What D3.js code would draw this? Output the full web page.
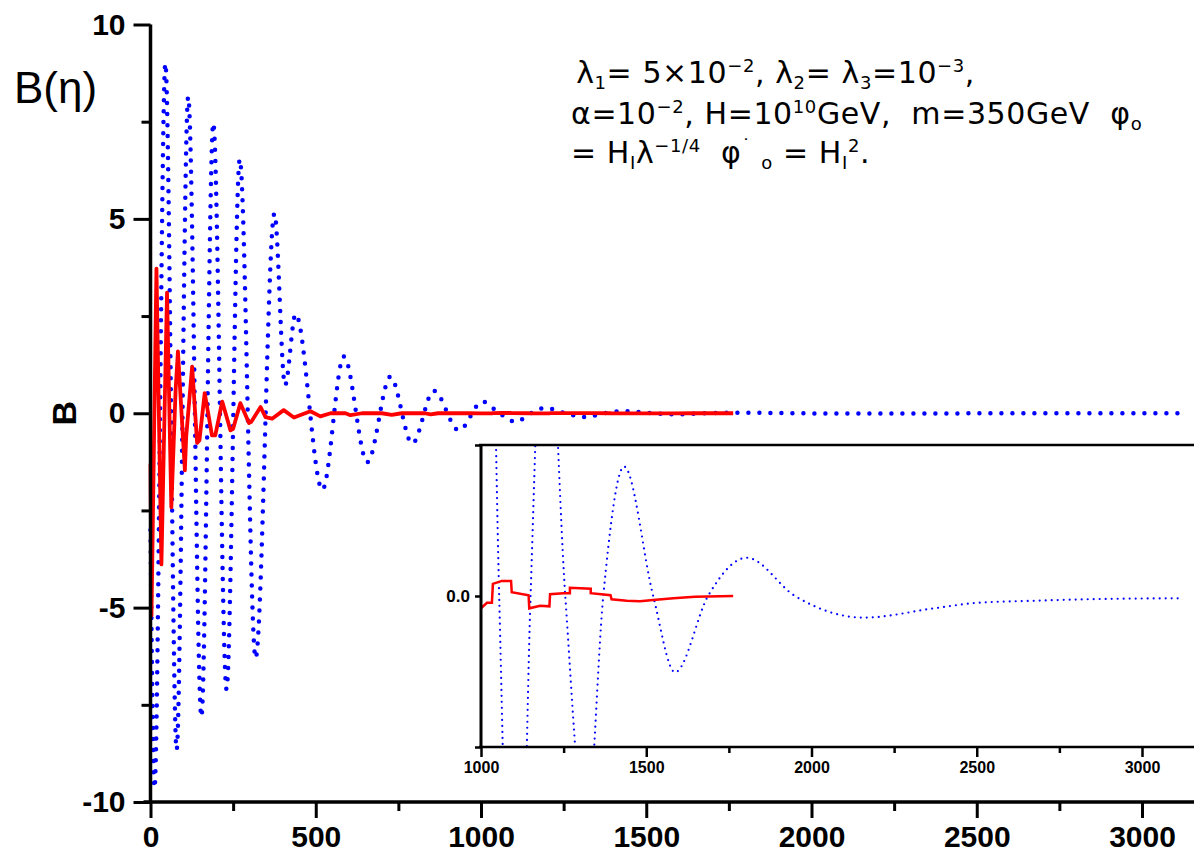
<!DOCTYPE html>
<html><head><meta charset="utf-8">
<script src="https://cdn.jsdelivr.net/npm/d3@7"></script>
<style>
body{margin:0;background:#fff}
svg{display:block}
text{white-space:pre}
</style>
</head><body>
<svg id="chart" width="1194" height="859"></svg>
<script>
// ---------- data ----------
// blue (dotted) series: eta and B
const blueEta = [0, 12, 45, 79, 114, 154, 190, 230, 270, 318, 375, 407, 439, 520, 585, 656, 726, 792, 857, 933,
  1004, 1055, 1105, 1150, 1195, 1255, 1318, 1370, 1433, 1521, 1587, 1687, 1804, 1950, 2158, 2371, 2502, 2672, 2872, 3123];
const blueB = [-3.0, -9.64, 9.0, -8.66, 8.14, -7.81, 7.46, -7.1, 6.53, -6.3, 5.14, 0.72, 2.55, -1.97, 1.46, -1.26, 0.94, -0.78, 0.58, -0.44,
  0.30, 0.0, -0.22, 0.0, 0.14, 0.0, -0.095, 0.0, 0.0514, 0.0, -0.0303, 0.0, 0.0152, 0.0, -0.0086, -0.0049, -0.0027, -0.0019, -0.0012, -0.0009];

// red (solid) series: eta and B
const redEta = [0, 3, 18, 33, 50, 63, 76, 83, 104, 108, 126, 141, 148, 164, 186, 196, 217, 242, 250, 272, 298, 305, 333, 348, 368, 403, 434, 484, 514, 545,
  590, 605, 640, 700, 730, 760, 830, 848, 870, 960,
  1000, 1018, 1033, 1036, 1063, 1091, 1093, 1144, 1146, 1179, 1207, 1209, 1249, 1269, 1269, 1332, 1332, 1392, 1395, 1441, 1481, 1521, 1582, 1647, 1763];
const redB = [-1.3, -5.2, 3.72, -3.89, 3.1, -2.42, 0.6, 1.59, -1.47, -0.6, 1.2, -0.76, -0.7, 0.52, -0.57, -0.57, 0.3, -0.44, -0.4, 0.26, -0.25, -0.22, 0.16, -0.1, -0.14, 0.08, -0.11, 0.05, -0.08, 0.0,
  0.0, -0.05, 0.0, 0.0, -0.04, 0.0, 0.0, -0.03, 0.0, 0.0,
  -0.0049, -0.0027, -0.0027, 0.0048, 0.0060, 0.0060, 0.0015, 0.0003, -0.0049, -0.0039, -0.0041, 0.0007, 0.0011, 0.0011, 0.0033, 0.0029, 0.0011, 0.0003, -0.0013, -0.0019, -0.0021, -0.0016, -0.0009, -0.0003, 0.0];

// ticks
const mainXTicks = [0, 500, 1000, 1500, 2000, 2500, 3000];
const mainXMinor = [250, 750, 1250, 1750, 2250, 2750];
const mainYTicks = [-10, -5, 0, 5, 10];
const mainYMinor = [-7.5, -2.5, 2.5, 7.5];
const insetXTicks = [1000, 1500, 2000, 2500, 3000];
const insetXMinor = [1250, 1750, 2250, 2750];
const insetYTicks = [-0.06, 0.0, 0.06];
const insetYLabels = ["", "0.0", ""];

// ---------- layout ----------
const svg = d3.select("#chart");
const W = 1194;
const x = d3.scaleLinear().domain([0, 3000]).range([150.5, 1142]);
const y = d3.scaleLinear().domain([-10, 10]).range([802, 24.5]);
const xi = d3.scaleLinear().domain([1000, 3000]).range([481, 1142]);
const yi = d3.scaleLinear().domain([-0.06, 0.06]).range([747, 445]);

const blue = blueEta.map((e, i) => [e, blueB[i]]);
const red = redEta.map((e, i) => [e, redB[i]]);

const FONT = "'Liberation Sans', Arial, sans-serif";
const fmtInt = d => String(d); // plain hyphen-minus as in the original

// ---------- main series ----------
const lineMainBlue = d3.line().x(d => x(d[0])).y(d => y(d[1])).curve(d3.curveMonotoneX);
const lineMainRed = d3.line().x(d => x(d[0])).y(d => y(d[1]));

svg.append("path").attr("d", lineMainBlue(blue))
  .attr("fill", "none").attr("stroke", "#0000ff").attr("stroke-width", 4.5)
  .attr("stroke-dasharray", "0 11").attr("stroke-linecap", "round");
svg.append("path").attr("d", lineMainRed(red))
  .attr("fill", "none").attr("stroke", "#ff0000").attr("stroke-width", 3.8)
  .attr("stroke-linejoin", "round");

// ---------- main axes ----------
function styleAxis(g, fs) {
  g.select(".domain").remove();
  g.selectAll(".tick line").attr("stroke", "#000").attr("stroke-width", 3);
  g.selectAll(".tick text").attr("font-family", FONT).attr("font-weight", "bold")
    .attr("font-size", fs).attr("fill", "#000");
}
const gx = svg.append("g").attr("transform", `translate(0,${y(-10)})`)
  .call(d3.axisBottom(x).tickValues(mainXTicks).tickFormat(fmtInt).tickSize(16).tickPadding(8));
styleAxis(gx, 30);
const gxm = svg.append("g").attr("transform", `translate(0,${y(-10)})`)
  .call(d3.axisBottom(x).tickValues(mainXMinor).tickFormat("").tickSize(9));
styleAxis(gxm, 30);

const gy = svg.append("g").attr("transform", `translate(${x(0)},0)`)
  .call(d3.axisLeft(y).tickValues(mainYTicks).tickFormat(fmtInt).tickSize(17).tickPadding(8));
styleAxis(gy, 30);
const gym = svg.append("g").attr("transform", `translate(${x(0)},0)`)
  .call(d3.axisLeft(y).tickValues(mainYMinor).tickFormat("").tickSize(9));
styleAxis(gym, 30);

svg.append("line").attr("x1", x(0)).attr("x2", x(0)).attr("y1", y(10)).attr("y2", y(-10))
  .attr("stroke", "#000").attr("stroke-width", 3.5);
svg.append("line").attr("x1", x(0) - 7).attr("x2", W).attr("y1", y(-10)).attr("y2", y(-10))
  .attr("stroke", "#000").attr("stroke-width", 3.5);

svg.append("text").attr("transform", `translate(76,${y(0)}) rotate(-90)`)
  .attr("text-anchor", "middle").attr("font-family", FONT).attr("font-weight", "bold")
  .attr("font-size", 34).text("B");
svg.append("text").attr("x", 14).attr("y", 103).attr("font-family", FONT)
  .attr("font-size", 44).text("B(η)");

// ---------- annotation ----------
const AF = 30, AS = 18;
function rich(xp, yp, parts) {
  const t = svg.append("text").attr("x", xp).attr("y", yp)
    .attr("font-family", "'DejaVu Sans', sans-serif").attr("font-size", AF)
    .attr("letter-spacing", 0.6).attr("fill", "#000");
  let off = 0;
  parts.forEach(p => {
    const [s, k] = p;
    let target = 0, fs = AF;
    if (k === "sub") { target = 6; fs = AS; }
    if (k === "sup") { target = -11; fs = AS; }
    t.append("tspan").attr("dy", target - off).attr("font-size", fs).text(s);
    off = target;
  });
  return t;
}
rich(566, 83, [[" λ"], ["1", "sub"], ["= 5×10"], ["−2", "sup"], [", λ"], ["2", "sub"], ["= λ"], ["3", "sub"], ["=10"], ["−3", "sup"], [","]]);
rich(571, 124, [["α=10"], ["−2", "sup"], [", H=10"], ["10", "sup"], ["GeV,  m=350GeV  φ"], ["o", "sub"]]);
rich(571, 163, [["= H"], ["I", "sub"], ["λ"], ["−1/4", "sup"], ["  φ"], ["˙", "sup"], [" "], ["o", "sub"], [" = H"], ["I", "sub"], ["2", "sup"], ["."]]);

// ---------- inset ----------
const inset = svg.append("g");
inset.append("rect").attr("x", xi(1000)).attr("y", yi(0.06)).attr("width", W - xi(1000)).attr("height", yi(-0.06) - yi(0.06))
  .attr("fill", "#fff");
svg.append("clipPath").attr("id", "ic").append("rect")
  .attr("x", xi(1000)).attr("y", yi(0.06)).attr("width", W - xi(1000)).attr("height", yi(-0.06) - yi(0.06));
const lineInB = d3.line().x(d => xi(d[0])).y(d => yi(d[1])).curve(d3.curveMonotoneX);
const lineInR = d3.line().x(d => xi(d[0])).y(d => yi(d[1]));
const ic = inset.append("g").attr("clip-path", "url(#ic)");
ic.append("path").attr("d", lineInB(blue.filter(d => d[0] >= 933)))
  .attr("fill", "none").attr("stroke", "#0000ff").attr("stroke-width", 2.2)
  .attr("stroke-dasharray", "0 6").attr("stroke-linecap", "round");
ic.append("path").attr("d", lineInR(red.filter(d => d[0] >= 960)))
  .attr("fill", "none").attr("stroke", "#ff0000").attr("stroke-width", 2.5);

const gix = inset.append("g").attr("transform", `translate(0,${yi(-0.06)})`)
  .call(d3.axisBottom(xi).tickValues(insetXTicks).tickFormat(fmtInt).tickSize(10).tickPadding(5));
styleAxis(gix, 16);
gix.selectAll(".tick line").attr("stroke-width", 2.5);
const gixm = inset.append("g").attr("transform", `translate(0,${yi(-0.06)})`)
  .call(d3.axisBottom(xi).tickValues(insetXMinor).tickFormat("").tickSize(6));
styleAxis(gixm, 16);
gixm.selectAll(".tick line").attr("stroke-width", 2.5);
const giy = inset.append("g").attr("transform", `translate(${xi(1000)},0)`)
  .call(d3.axisLeft(yi).tickValues(insetYTicks).tickFormat((d, i) => insetYLabels[i]).tickSize(6).tickPadding(5));
styleAxis(giy, 17);
giy.selectAll(".tick line").attr("stroke-width", 2.5);

inset.append("line").attr("x1", xi(1000)).attr("x2", xi(1000)).attr("y1", yi(0.06)).attr("y2", yi(-0.06))
  .attr("stroke", "#000").attr("stroke-width", 3);
inset.append("line").attr("x1", xi(1000) - 2).attr("x2", W).attr("y1", yi(0.06)).attr("y2", yi(0.06))
  .attr("stroke", "#000").attr("stroke-width", 2.5);
inset.append("line").attr("x1", xi(1000) - 2).attr("x2", W).attr("y1", yi(-0.06)).attr("y2", yi(-0.06))
  .attr("stroke", "#000").attr("stroke-width", 2.5);
</script>
</body></html>
